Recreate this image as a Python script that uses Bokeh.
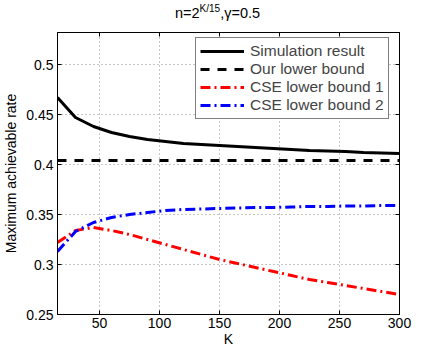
from bokeh.plotting import figure
from bokeh.layouts import column
from bokeh.models import Legend, LegendItem, LinearAxis, FixedTicker, Range1d, CustomJSTickFormatter, Div
from bokeh.embed import file_html
from bokeh.resources import INLINE

K = [15, 30, 45, 60, 75, 90, 105, 120, 135, 150, 165, 180, 195, 210, 225, 240, 255, 270, 285, 300]
sim = [0.467, 0.447, 0.438, 0.432, 0.428, 0.425, 0.423, 0.421, 0.420, 0.419, 0.418, 0.417, 0.416, 0.415, 0.414, 0.4135, 0.413, 0.412, 0.4115, 0.411]
ours = [0.404] * len(K)
cse1 = [0.322, 0.334, 0.337, 0.334, 0.330, 0.325, 0.320, 0.315, 0.310, 0.305, 0.301, 0.297, 0.293, 0.289, 0.285, 0.282, 0.279, 0.276, 0.273, 0.270]
cse2 = [0.313, 0.333, 0.342, 0.347, 0.350, 0.352, 0.354, 0.355, 0.3555, 0.356, 0.3565, 0.357, 0.357, 0.3575, 0.358, 0.358, 0.3585, 0.3585, 0.359, 0.359]
xticks = [50, 100, 150, 200, 250, 300]
yticks = [0.25, 0.3, 0.35, 0.4, 0.45, 0.5]
ylabels = {0.25: "0.25", 0.3: "0.3", 0.35: "0.35", 0.4: "0.4", 0.45: "0.45", 0.5: "0.5"}
title_html = "n=2<sup style='font-size:10px'>K/15</sup>,γ=0.5"

FONT = "Liberation Sans"

title = Div(text=title_html, width=427, height=16,
            styles={"font-family": FONT, "font-size": "14.5px", "color": "black",
                    "line-height": "16px", "padding-left": "175px", "margin": "0",
                    "white-space": "nowrap", "padding-top": "1px"})

p = figure(frame_width=342, frame_height=282, output_backend="svg", toolbar_location=None,
           x_range=Range1d(15, 300), y_range=Range1d(0.25, 0.532),
           min_border_left=54, min_border_right=31, min_border_top=16, min_border_bottom=36)
p.outline_line_color = "black"
p.outline_line_width = 1
p.background_fill_color = "white"
p.border_fill_color = None

for ax in [p.xaxis[0], p.yaxis[0]]:
    ax.major_label_text_font = FONT
    ax.major_label_text_font_size = "14px"
    ax.major_label_text_color = "black"
    ax.axis_line_color = "black"
    ax.major_tick_line_color = "black"
    ax.major_tick_in = 4
    ax.major_tick_out = 0
    ax.minor_tick_line_color = None
    ax.axis_label_text_font = FONT
    ax.axis_label_text_font_size = "14px"
    ax.axis_label_text_font_style = "normal"
    ax.axis_label_text_color = "black"

p.xaxis.ticker = FixedTicker(ticks=xticks)
p.yaxis.ticker = FixedTicker(ticks=yticks)
p.yaxis.major_label_overrides = ylabels
p.xaxis.axis_label = "K"
p.yaxis.axis_label = "Maximum achievable rate"
p.xaxis.axis_label_standoff = 0
p.yaxis.axis_label_standoff = 4
p.xaxis.major_label_standoff = 3
p.yaxis.major_label_standoff = 4

blank = CustomJSTickFormatter(code="return '';")
top = LinearAxis(ticker=FixedTicker(ticks=xticks), formatter=blank,
                 major_tick_in=4, major_tick_out=0, minor_tick_line_color=None,
                 axis_line_color="black", major_label_standoff=0)
right = LinearAxis(ticker=FixedTicker(ticks=yticks), formatter=blank,
                   major_tick_in=4, major_tick_out=0, minor_tick_line_color=None,
                   axis_line_color="black", major_label_standoff=0)
p.add_layout(top, "above")
p.add_layout(right, "right")

p.xgrid.grid_line_color = "#8c8c8c"
p.ygrid.grid_line_color = "#8c8c8c"
p.xgrid.grid_line_dash = "1 3"
p.ygrid.grid_line_dash = "1 3"

r1 = p.line(K, sim, line_color="black", line_width=3)
r2 = p.line(K, ours, line_color="black", line_width=3, line_dash="9 8")
r3 = p.line(K, cse1, line_color="red", line_width=3, line_dash="10 4 2 4")
r4 = p.line(K, cse2, line_color="blue", line_width=3, line_dash="10 4 2 4")

legend = Legend(items=[
    LegendItem(label="Simulation result", renderers=[r1]),
    LegendItem(label="Our lower bound", renderers=[r2]),
    LegendItem(label="CSE lower bound 1", renderers=[r3]),
    LegendItem(label="CSE lower bound 2", renderers=[r4]),
], location=(138, 195))
legend.label_text_font = FONT
legend.label_text_font_size = "15.5px"
legend.glyph_width = 44
legend.glyph_height = 18
legend.label_height = 18
legend.label_standoff = 6
legend.spacing = 0
legend.padding = 4
legend.margin = 0
legend.border_line_color = "black"
legend.border_line_width = 1
legend.background_fill_alpha = 1
p.add_layout(legend, "center")

layout = column(title, p, spacing=0)
open("out.html", "w").write(file_html(layout, INLINE))
